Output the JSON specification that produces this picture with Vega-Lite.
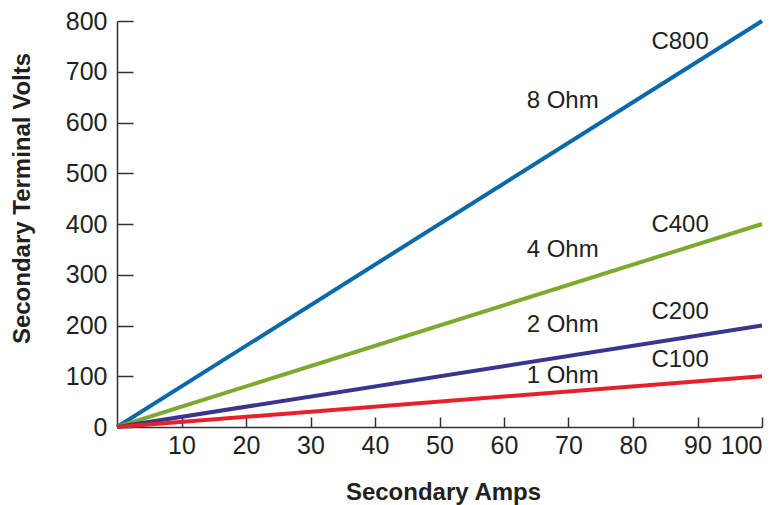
{
  "$schema": "https://vega.github.io/schema/vega-lite/v6.json",
  "width": 645,
  "height": 406,
  "autosize": "none",
  "padding": {"left": 117, "top": 21, "right": 18, "bottom": 78},
  "background": "white",
  "config": {
    "view": {"stroke": null},
    "font": "Liberation Sans",
    "axis": {"grid": false, "domainColor": "#333333", "domainWidth": 1.5, "tickColor": "#333333", "tickWidth": 1.5, "labelColor": "#231f20", "labelFont": "Liberation Sans", "labelFontSize": 25, "titleFont": "Liberation Sans", "titleFontSize": 24, "titleFontWeight": "bold", "titleColor": "#231f20"}
  },
  "datasets": {
    "lines": [
      {"series": "8 Ohm", "amps": 0, "volts": 0},
      {"series": "8 Ohm", "amps": 100, "volts": 800},
      {"series": "4 Ohm", "amps": 0, "volts": 0},
      {"series": "4 Ohm", "amps": 100, "volts": 400},
      {"series": "2 Ohm", "amps": 0, "volts": 0},
      {"series": "2 Ohm", "amps": 100, "volts": 200},
      {"series": "1 Ohm", "amps": 0, "volts": 0},
      {"series": "1 Ohm", "amps": 100, "volts": 100}
    ],
    "labels": [
      {"text": "C800", "amps": 87.3, "volts": 758},
      {"text": "8 Ohm", "amps": 69.1, "volts": 642},
      {"text": "C400", "amps": 87.3, "volts": 398},
      {"text": "4 Ohm", "amps": 69.1, "volts": 349},
      {"text": "C200", "amps": 87.3, "volts": 227},
      {"text": "2 Ohm", "amps": 69.1, "volts": 201},
      {"text": "C100", "amps": 87.3, "volts": 132},
      {"text": "1 Ohm", "amps": 69.1, "volts": 100}
    ]
  },
  "layer": [
    {
      "data": {"name": "lines"},
      "mark": {"type": "line", "strokeWidth": 4, "strokeCap": "butt"},
      "encoding": {
        "x": {"field": "amps", "type": "quantitative", "scale": {"domain": [0, 100], "nice": false},
          "axis": {"title": "Secondary Amps", "values": [10, 20, 30, 40, 50, 60, 70, 80, 90, 100], "tickSize": -10, "labelPadding": 16, "titleX": 326, "titleY": 65, "titleBaseline": "middle"}},
        "y": {"field": "volts", "type": "quantitative", "scale": {"domain": [0, 800], "nice": false},
          "axis": {"title": "Secondary Terminal Volts", "values": [0, 100, 200, 300, 400, 500, 600, 700, 800], "tickSize": -16, "labelPadding": 26, "titleX": -95, "titleY": 177, "titleBaseline": "middle", "titleAngle": -90, "titleAlign": "center"}},
        "color": {"field": "series", "type": "nominal", "legend": null,
          "scale": {"domain": ["8 Ohm", "4 Ohm", "2 Ohm", "1 Ohm"], "range": ["#0a69a8", "#7caa2e", "#3a3591", "#e7212b"]}}
      }
    },
    {
      "data": {"name": "labels"},
      "mark": {"type": "text", "fontSize": 24, "font": "Liberation Sans", "color": "#231f20", "align": "center", "baseline": "middle"},
      "encoding": {
        "x": {"field": "amps", "type": "quantitative"},
        "y": {"field": "volts", "type": "quantitative"},
        "text": {"field": "text"}
      }
    }
  ]
}
